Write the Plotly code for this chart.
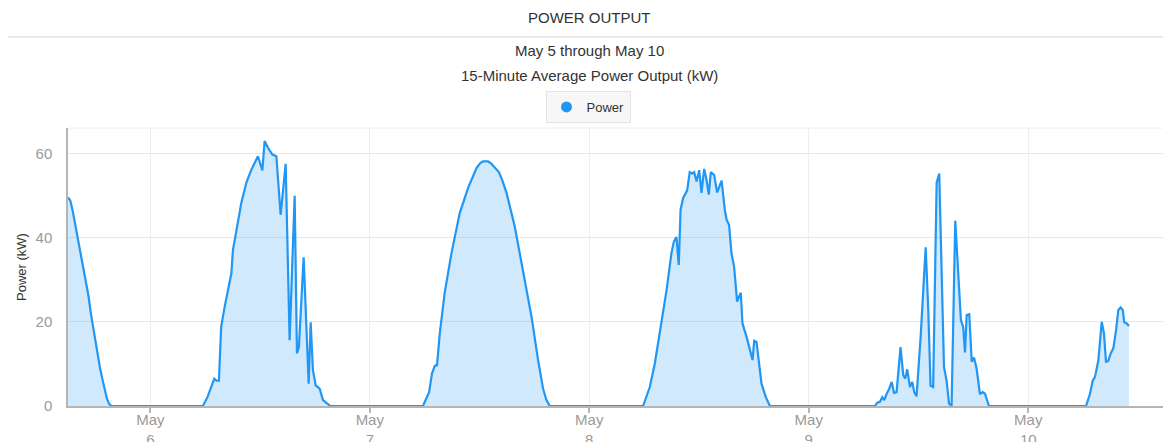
import plotly.graph_objects as go

# ---- data (15-minute average power output, kW) ----
may5_times = ["15:00", "15:15", "15:30", "15:45", "16:00", "16:15", "16:30", "16:45", "17:00", "17:15",
              "17:30", "17:45", "18:00", "18:15", "18:30", "18:45", "19:00", "19:15", "19:30", "19:45"]
may5_kw = [49.5, 48.8, 46.5, 43.5, 41, 38, 35, 32, 29.5, 26,
           22, 18.5, 15, 12, 9, 6.5, 4, 1.8, 0.5, 0]

may6_times = ["05:45", "06:15", "07:00", "07:15", "07:30", "07:45", "08:08", "08:40", "08:52", "09:02",
              "09:25", "09:57", "10:30", "11:03", "11:46", "12:15", "12:30", "12:52", "13:21", "13:47",
              "14:15", "14:48", "15:14", "15:47", "16:02", "16:15", "16:46", "17:19", "17:32", "17:47",
              "18:05", "18:31", "18:53", "19:15", "19:41"]
may6_kw = [0, 2.1, 6.5, 6, 6, 18.8, 23.6, 29.9, 31.5, 37,
           41.8, 48.2, 53, 56.1, 59.3, 55.9, 62.9, 61.3, 59.7, 59.3,
           45.4, 57.5, 15.6, 49.9, 12.5, 14, 35.3, 5.3, 19.9, 8.5,
           4.9, 4.1, 1.4, 0.7, 0]

may7_times = ["05:49", "06:29", "06:48", "07:06", "07:21", "07:39", "08:11", "08:56", "09:50", "10:45",
              "11:40", "12:05", "12:23", "12:56", "13:15", "13:40", "14:08", "14:30", "14:57", "15:51",
              "16:46", "17:41", "18:24", "18:57", "19:19", "19:41"]
may7_kw = [0, 3.3, 7.7, 9.5, 9.7, 17.2, 26.8, 36.3, 45.8, 51.8,
           56.5, 57.7, 58.1, 58.1, 57.6, 56.5, 55.5, 53.5, 50.6, 42.6,
           32.3, 21.2, 10.9, 4.1, 1.4, 0]

may8_times = ["05:53", "06:37", "07:10", "07:54", "08:27", "08:59", "09:15", "09:32", "09:47", "09:59",
              "10:16", "10:42", "10:59", "11:17", "11:28", "11:44", "12:01", "12:16", "12:34", "12:49",
              "13:04", "13:17", "13:39", "13:59", "14:28", "14:49", "15:01", "15:17", "15:33", "15:50",
              "16:10", "16:34", "16:45", "17:12", "17:51", "18:02", "18:17", "18:50", "19:18", "19:45"]
may8_kw = [0, 4.5, 10.1, 20.4, 27.5, 36.3, 39, 40.1, 33.5, 46.6,
           49.4, 51.2, 55.5, 55.2, 55.5, 53.3, 56, 50.6, 56.3, 53.7,
           50.2, 55.5, 54.9, 50.7, 53.5, 46.6, 44.2, 43, 36.3, 33.1,
           24.8, 26.9, 19.6, 16.4, 10.9, 15.5, 15.2, 5.3, 2.1, 0]

may9_times = ["07:14", "07:29", "07:47", "08:02", "08:15", "08:31", "08:48", "09:04", "09:19", "09:36",
              "10:02", "10:20", "10:33", "10:46", "11:04", "11:19", "11:32", "11:47", "12:14", "12:47",
              "13:04", "13:19", "13:36", "13:59", "14:16", "14:47", "15:04", "15:20", "15:37", "16:01",
              "16:38", "16:53", "17:05", "17:16", "17:33", "17:49", "18:04", "18:21", "18:43", "19:01",
              "19:16", "19:42"]
may9_kw = [0, 0.8, 1, 2.1, 1.4, 2.9, 4.1, 5.7, 3.1, 3.3,
           14, 7.3, 6.5, 8.7, 4.5, 5.7, 3.3, 2.3, 16.4, 37.7,
           22.8, 4.8, 4.5, 53, 55.2, 9.3, 6.1, 0.6, 0, 44,
           20.4, 18.8, 12.7, 21.6, 21.8, 10.5, 11.5, 8.9, 2.8, 3.3,
           2.9, 0]

may10_times = ["06:19", "06:45", "07:03", "07:18", "07:40", "08:02", "08:17", "08:30", "08:45", "09:01",
               "09:18", "09:36", "09:51", "10:06", "10:20", "10:30", "10:46", "11:01"]
may10_kw = [0, 2.9, 6, 6.9, 10.9, 20, 17.2, 10.5, 10.7, 12.5,
            13.7, 18, 22.8, 23.4, 22.8, 19.9, 19.6, 19]

days = [("2023-05-05", may5_times, may5_kw), ("2023-05-06", may6_times, may6_kw),
        ("2023-05-07", may7_times, may7_kw), ("2023-05-08", may8_times, may8_kw),
        ("2023-05-09", may9_times, may9_kw), ("2023-05-10", may10_times, may10_kw)]

tick_dates = ["2023-05-06", "2023-05-07", "2023-05-08", "2023-05-09", "2023-05-10"]
tick_labels = ["May<br>6", "May<br>7", "May<br>8", "May<br>9", "May<br>10"]
y_ticks = [0, 20, 40, 60]

series_name = "Power"
chart_title = "POWER OUTPUT"
subtitle_1 = "May 5 through May 10"
subtitle_2 = "15-Minute Average Power Output (kW)"

# ---- build series ----
xs, ys = [], []
for d, times, kws in days:
    for t, v in zip(times, kws):
        xs.append(f"{d} {t}")
        ys.append(v)

BLUE = "#2196f3"
FONT = "Liberation Sans, Arial, sans-serif"

fig = go.Figure()
fig.add_trace(go.Scatter(
    x=xs, y=ys, mode="lines", name=series_name, showlegend=False,
    line=dict(color=BLUE, width=2.2),
    fill="tozeroy", fillcolor="rgba(33,150,243,0.21)",
))
# legend entry (circle symbol, like the original legend)
fig.add_trace(go.Scatter(
    x=[None], y=[None], mode="markers", name=series_name,
    marker=dict(color=BLUE, size=11, symbol="circle"),
))

W, H = 1163, 442
ml, mr, mt, mb = 68, 0, 128, 36
ph = H - mt - mb
pw = W - ml - mr


def py(pix):
    return (H - mb - pix) / ph


def px(pix):
    return (pix - ml) / pw


cx = px(589)

fig.update_layout(
    width=W, height=H, autosize=False,
    margin=dict(l=ml, r=mr, t=mt, b=mb, pad=0, autoexpand=False),
    paper_bgcolor="white", plot_bgcolor="white",
    font=dict(family=FONT, color="#333333", size=13),
    showlegend=True,
    legend=dict(
        x=px(588), xanchor="center", y=py(91), yanchor="top",
        bgcolor="#f7f7f7", bordercolor="#e3e3e3", borderwidth=1,
        font=dict(size=13, color="#333333"),
        itemwidth=30,
    ),
    xaxis=dict(
        type="date",
        range=["2023-05-05 15:00", "2023-05-10 14:44"],
        tickmode="array", tickvals=tick_dates, ticktext=tick_labels,
        showgrid=True, gridcolor="#eeeeee", gridwidth=1,
        showline=True, linecolor="#b5b5b5", linewidth=2,
        ticks="outside", ticklen=5, tickcolor="#b5b5b5", tickwidth=2,
        ticklabelstandoff=-6,
        tickfont=dict(size=15, color="#9a9a9a"),
        zeroline=False, fixedrange=True, automargin=False,
    ),
    yaxis=dict(
        range=[0, 66],
        tickmode="array", tickvals=y_ticks,
        showgrid=True, gridcolor="#e8e8e8", gridwidth=1,
        showline=True, linecolor="#b5b5b5", linewidth=1.5,
        ticks="", ticklabelstandoff=11,
        tickfont=dict(size=15, color="#9a9a9a"),
        zeroline=False,
        title=dict(text="Power (kW)", font=dict(size=13, color="#333333"), standoff=6),
        automargin=False,
    ),
    annotations=[
        dict(text=chart_title, x=cx, y=py(17), xref="paper", yref="paper",
             showarrow=False, xanchor="center", yanchor="middle",
             font=dict(size=15, color="#333333")),
        dict(text=subtitle_1, x=cx, y=py(51), xref="paper", yref="paper",
             showarrow=False, xanchor="center", yanchor="middle",
             font=dict(size=15, color="#333333")),
        dict(text=subtitle_2, x=cx, y=py(75), xref="paper", yref="paper",
             showarrow=False, xanchor="center", yanchor="middle",
             font=dict(size=15, color="#333333")),
    ],
    shapes=[
        dict(type="line", xref="paper", yref="paper", x0=px(8), x1=1, y0=py(37), y1=py(37),
             line=dict(color="#e2e2e2", width=1.5)),
        dict(type="line", xref="paper", yref="paper", x0=0, x1=1, y0=1, y1=1,
             line=dict(color="#eeeeee", width=1)),
    ],
)

fig.write_html(
    "out.html",
    config={"responsive": False, "displayModeBar": False},
    post_script="document.body.style.margin='0';document.body.style.overflow='hidden';",
)
